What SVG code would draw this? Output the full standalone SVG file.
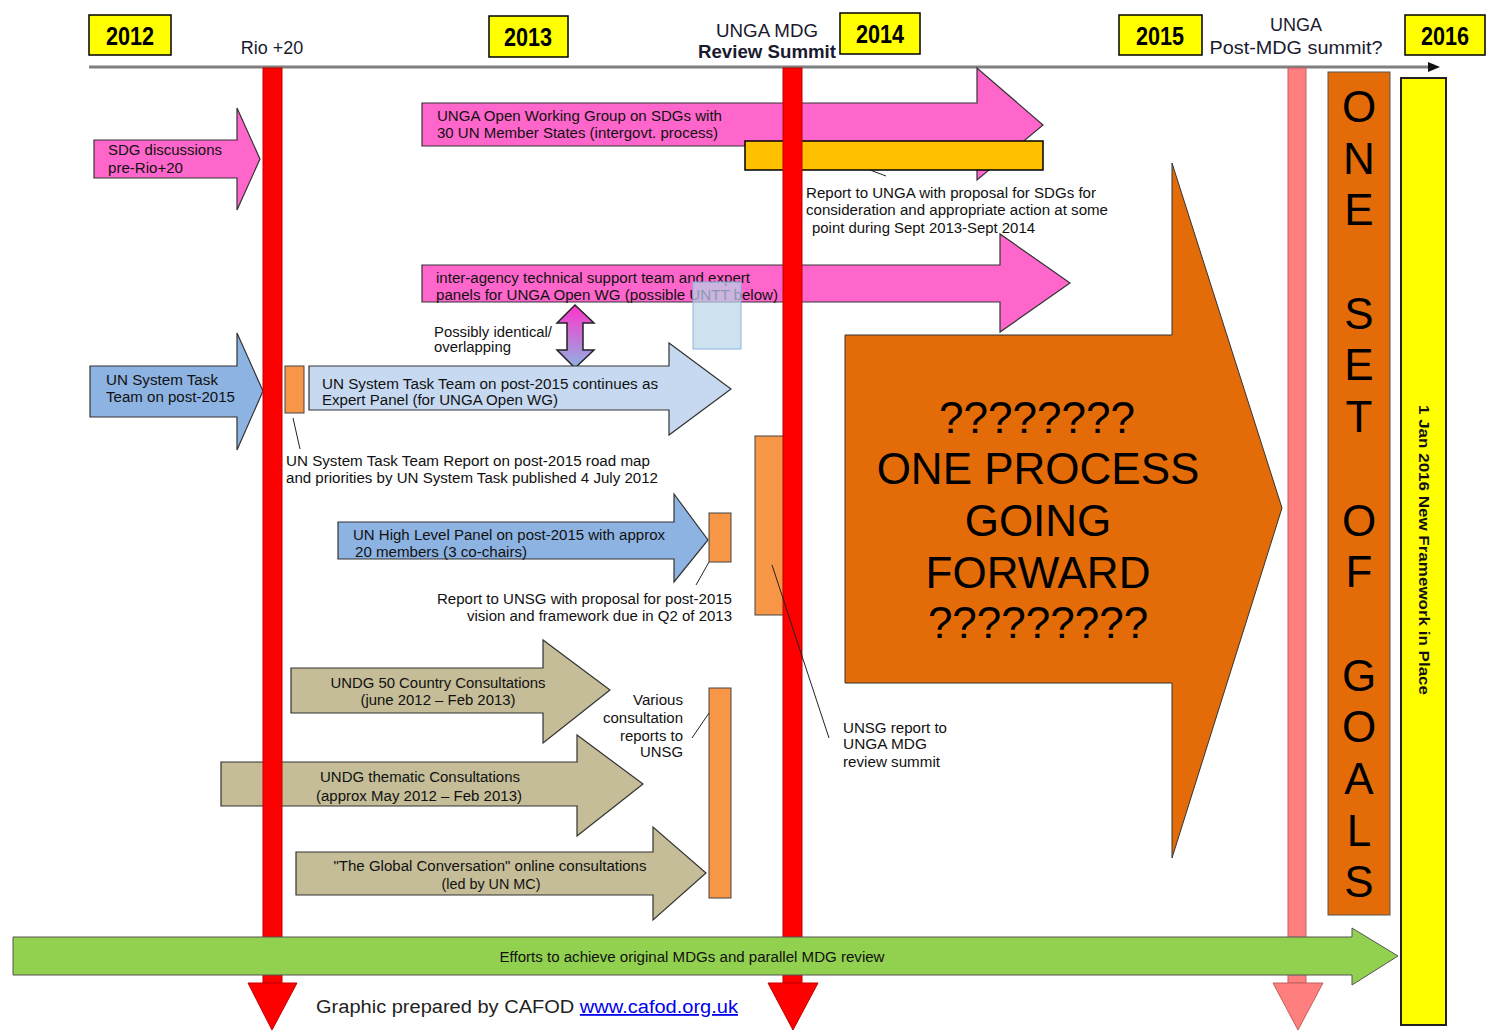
<svg xmlns="http://www.w3.org/2000/svg" width="1494" height="1033" viewBox="0 0 1494 1033">
<defs>
<style>
.t{font-family:"Liberation Sans",Arial,sans-serif;font-size:14px;fill:#111}
.yr{font-family:"Liberation Sans",Arial,sans-serif;font-size:25px;font-weight:bold;fill:#000;text-anchor:middle}
.hd{font-family:"Liberation Sans",Arial,sans-serif;font-size:18px;fill:#1a1a2e;text-anchor:middle}
.big{font-family:"Liberation Sans",Arial,sans-serif;font-size:44px;fill:#000;text-anchor:middle}
.ybox{fill:#FFFF00;stroke:#000;stroke-width:1.5}
.ar{stroke:#333;stroke-width:1.2}
.pink{fill:#FF66CC}
.blue{fill:#8DB3E2}
.lblue{fill:#C6D9F1}
.tan{fill:#C4BD97}
.orsm{fill:#F79646;stroke:#444;stroke-width:1}
.ld{stroke:#222;stroke-width:1;fill:none}
.mid{text-anchor:middle}
.end{text-anchor:end}
</style>
<linearGradient id="dbl" x1="0" y1="0" x2="0" y2="1">
<stop offset="0" stop-color="#FF33CC"/>
<stop offset="1" stop-color="#8DB3E2"/>
</linearGradient>
</defs>
<rect width="1494" height="1033" fill="#fff"/>

<g id="timeline">
<line x1="89" y1="67" x2="1432" y2="67" stroke="#7f7f7f" stroke-width="3"/>
<polygon points="1428,62 1440,67 1428,72" fill="#111"/>
</g>

<g id="years">
<g id="y2012"><rect class="ybox" x="89" y="15" width="82" height="40"/><text class="yr" x="130" y="45" textLength="48" lengthAdjust="spacingAndGlyphs">2012</text></g>
<g id="y2013"><rect class="ybox" x="489" y="16" width="79" height="41"/><text class="yr" x="528" y="46" textLength="48" lengthAdjust="spacingAndGlyphs">2013</text></g>
<g id="y2014"><rect class="ybox" x="840" y="13" width="80" height="41"/><text class="yr" x="880" y="43" textLength="48" lengthAdjust="spacingAndGlyphs">2014</text></g>
<g id="y2015"><rect class="ybox" x="1119" y="15" width="83" height="40"/><text class="yr" x="1160" y="45" textLength="48" lengthAdjust="spacingAndGlyphs">2015</text></g>
<g id="y2016"><rect class="ybox" x="1405" y="15" width="80" height="40"/><text class="yr" x="1445" y="45" textLength="48" lengthAdjust="spacingAndGlyphs">2016</text></g>
</g>

<g id="event-labels">
<text class="hd" x="272" y="54">Rio +20</text>
<text class="hd" x="767" y="37" textLength="102" lengthAdjust="spacingAndGlyphs">UNGA MDG</text>
<text class="hd" x="767" y="58" font-weight="bold" textLength="138" lengthAdjust="spacingAndGlyphs">Review Summit</text>
<text class="hd" x="1296" y="31">UNGA</text>
<text class="hd" x="1296" y="54" textLength="173" lengthAdjust="spacingAndGlyphs">Post-MDG summit?</text>
</g>

<g id="sdg-discussions">
<path class="pink ar" d="M94,140 H237 V108 L260,159 L237,210 V178 H94 Z"/>
<text class="t" x="108" y="155" textLength="114" lengthAdjust="spacingAndGlyphs">SDG discussions</text>
<text class="t" x="108" y="173" textLength="75" lengthAdjust="spacingAndGlyphs">pre-Rio+20</text>
</g>

<g id="unga-owg">
<path class="pink ar" d="M422,103 H977 V68 L1043,125 L977,180 V146 H422 Z"/>
<text class="t" x="437" y="121" textLength="285" lengthAdjust="spacingAndGlyphs">UNGA Open Working Group on SDGs with</text>
<text class="t" x="437" y="138" textLength="281" lengthAdjust="spacingAndGlyphs">30 UN Member States (intergovt. process)</text>
</g>

<g id="unga-report-bar">
<rect x="745" y="141" width="298" height="29" fill="#FFC000" stroke="#000" stroke-width="1.5"/>
</g>

<g id="unga-report-label">
<text class="t" x="806" y="198" textLength="290" lengthAdjust="spacingAndGlyphs">Report to UNGA with proposal for SDGs for</text>
<text class="t" x="806" y="215" textLength="302" lengthAdjust="spacingAndGlyphs">consideration and appropriate action at some</text>
<text class="t" x="812" y="233" textLength="223" lengthAdjust="spacingAndGlyphs">point during Sept 2013-Sept 2014</text>
</g>

<g id="inter-agency">
<path class="pink ar" d="M422,265 H1000 V234 L1070,283 L1000,332 V302 H422 Z"/>
<text class="t" x="436" y="283" textLength="314" lengthAdjust="spacingAndGlyphs">inter-agency technical support team and expert</text>
<text class="t" x="436" y="300" textLength="342" lengthAdjust="spacingAndGlyphs">panels for UNGA Open WG (possible UNTT below)</text>
</g>

<g id="untt-overlay">
<rect x="693" y="282" width="48" height="67" fill="#B8D4E8" fill-opacity="0.7" stroke="#8DB3E2" stroke-width="1"/>
</g>

<g id="possibly-identical">
<path d="M575,305 L594,323 H583 V350 H594 L575,368 L557,350 H567 V323 H557 Z" fill="url(#dbl)" stroke="#222" stroke-width="1.5"/>
<text class="t" x="434" y="337" textLength="118" lengthAdjust="spacingAndGlyphs">Possibly identical/</text>
<text class="t" x="434" y="352" textLength="77" lengthAdjust="spacingAndGlyphs">overlapping</text>
</g>

<g id="untt">
<path class="blue ar" d="M90,366 H237 V333 L263,391 L237,450 V417 H90 Z"/>
<text class="t" x="106" y="385" textLength="112" lengthAdjust="spacingAndGlyphs">UN System Task</text>
<text class="t" x="106" y="402" textLength="129" lengthAdjust="spacingAndGlyphs">Team on post-2015</text>
</g>

<g id="untt-report">
<rect class="orsm" x="285" y="366" width="19" height="47"/>
<text class="t" x="286" y="466" textLength="364" lengthAdjust="spacingAndGlyphs">UN System Task Team Report on post-2015 road map</text>
<text class="t" x="286" y="483" textLength="372" lengthAdjust="spacingAndGlyphs">and priorities by UN System Task published 4 July 2012</text>
</g>

<g id="untt-continues">
<path class="lblue ar" d="M309,366 H669 V343 L731,389 L669,435 V410 H309 Z"/>
<text class="t" x="322" y="389" textLength="336" lengthAdjust="spacingAndGlyphs">UN System Task Team on post-2015 continues as</text>
<text class="t" x="322" y="405" textLength="236" lengthAdjust="spacingAndGlyphs">Expert Panel (for UNGA Open WG)</text>
</g>

<g id="high-level-panel">
<path class="blue ar" d="M338,522 H674 V494 L708,540 L674,582 V559 H338 Z"/>
<text class="t" x="353" y="540" textLength="312" lengthAdjust="spacingAndGlyphs">UN High Level Panel on post-2015 with approx</text>
<text class="t" x="355" y="557" textLength="172" lengthAdjust="spacingAndGlyphs">20 members (3 co-chairs)</text>
</g>

<g id="hlp-report">
<rect class="orsm" x="709" y="513" width="22" height="49"/>
<text class="t end" x="732" y="604" textLength="295" lengthAdjust="spacingAndGlyphs">Report to UNSG with proposal for post-2015</text>
<text class="t end" x="732" y="621" textLength="265" lengthAdjust="spacingAndGlyphs">vision and framework due in Q2 of 2013</text>
</g>

<g id="unsg-report">
<rect class="orsm" x="755" y="436" width="29" height="179"/>
<text class="t" x="843" y="733" textLength="104" lengthAdjust="spacingAndGlyphs">UNSG report to</text>
<text class="t" x="843" y="749" textLength="84" lengthAdjust="spacingAndGlyphs">UNGA MDG</text>
<text class="t" x="843" y="767" textLength="97" lengthAdjust="spacingAndGlyphs">review summit</text>
</g>

<g id="one-process">
<path d="M845,335 H1172 V163 L1282,508 L1172,858 V683 H845 Z" fill="#E36C09" stroke="#333" stroke-width="1"/>
<text class="big" x="1037" y="433">????????</text>
<text class="big" x="1038" y="484">ONE PROCESS</text>
<text class="big" x="1038" y="536">GOING</text>
<text class="big" x="1038" y="588">FORWARD</text>
<text class="big" x="1038" y="638">?????????</text>
</g>

<g id="undg-50">
<path class="tan ar" d="M291,668 H543 V640 L610,690 L543,743 V713 H291 Z"/>
<text class="t mid" x="438" y="688" textLength="215" lengthAdjust="spacingAndGlyphs">UNDG 50 Country Consultations</text>
<text class="t mid" x="438" y="705" textLength="155" lengthAdjust="spacingAndGlyphs">(june 2012 – Feb 2013)</text>
</g>

<g id="undg-thematic">
<path class="tan ar" d="M221,762 H577 V735 L643,784 L577,836 V806 H221 Z"/>
<text class="t mid" x="420" y="782" textLength="200" lengthAdjust="spacingAndGlyphs">UNDG thematic Consultations</text>
<text class="t mid" x="419" y="801" textLength="206" lengthAdjust="spacingAndGlyphs">(approx May 2012 – Feb 2013)</text>
</g>

<g id="global-conversation">
<path class="tan ar" d="M296,852 H653 V827 L706,873 L653,920 V895 H296 Z"/>
<text class="t mid" x="490" y="871" textLength="313" lengthAdjust="spacingAndGlyphs">"The Global Conversation" online consultations</text>
<text class="t mid" x="491" y="889" textLength="99" lengthAdjust="spacingAndGlyphs">(led by UN MC)</text>
</g>

<g id="consultation-reports">
<rect class="orsm" x="709" y="688" width="22" height="210"/>
<text class="t end" x="683" y="705" textLength="50" lengthAdjust="spacingAndGlyphs">Various</text>
<text class="t end" x="683" y="723" textLength="80" lengthAdjust="spacingAndGlyphs">consultation</text>
<text class="t end" x="683" y="741" textLength="63" lengthAdjust="spacingAndGlyphs">reports to</text>
<text class="t end" x="683" y="757" textLength="43" lengthAdjust="spacingAndGlyphs">UNSG</text>
</g>

<g id="rio-bar">
<rect x="263" y="68" width="19" height="915" fill="#FF0000" stroke="#C00000" stroke-width="1"/>
<polygon points="248,983 297,983 272,1030" fill="#FF0000" stroke="#C00000" stroke-width="1"/>
</g>
<g id="mdg-review-bar">
<rect x="783" y="68" width="19" height="915" fill="#FF0000" stroke="#C00000" stroke-width="1"/>
<polygon points="768,983 818,983 793,1030" fill="#FF0000" stroke="#C00000" stroke-width="1"/>
</g>
<g id="post-mdg-bar">
<rect x="1288" y="68" width="18" height="915" fill="#FF7F7F" stroke="#C06060" stroke-width="1"/>
<polygon points="1273,983 1323,983 1298,1030" fill="#FF7F7F" stroke="#C06060" stroke-width="1"/>
</g>

<g id="connectors">
<line class="ld" x1="293" y1="418" x2="300" y2="449"/>
<line class="ld" x1="709" y1="562" x2="696" y2="585"/>
<line class="ld" x1="709" y1="713" x2="692" y2="738"/>
<line class="ld" x1="772" y1="565" x2="829" y2="738"/>
<line class="ld" x1="870" y1="170" x2="886" y2="176"/>
</g>

<g id="one-set-of-goals">
<rect x="1328" y="72" width="62" height="843" fill="#E36C09" stroke="#555" stroke-width="1"/>
<g class="big">
<text x="1359" y="122">O</text>
<text x="1359" y="174">N</text>
<text x="1359" y="225">E</text>
<text x="1359" y="329">S</text>
<text x="1359" y="380">E</text>
<text x="1359" y="432">T</text>
<text x="1359" y="536">O</text>
<text x="1359" y="587">F</text>
<text x="1359" y="691">G</text>
<text x="1359" y="742">O</text>
<text x="1359" y="794">A</text>
<text x="1359" y="846">L</text>
<text x="1359" y="897">S</text>
</g>
</g>

<g id="new-framework">
<rect x="1401" y="78" width="45" height="947" fill="#FFFF00" stroke="#222" stroke-width="2"/>
<text class="t" font-weight="bold" font-size="15" text-anchor="middle" transform="translate(1419,550) rotate(90)" textLength="290" lengthAdjust="spacingAndGlyphs">1 Jan 2016 New Framework in Place</text>
</g>

<g id="mdg-efforts">
<path d="M13,937 H1352 V928 L1398,956 L1352,985 V975 H13 Z" fill="#92D050" stroke="#555" stroke-width="1"/>
<text class="t mid" x="692" y="962" textLength="385" lengthAdjust="spacingAndGlyphs">Efforts to achieve original MDGs and parallel MDG review</text>
</g>

<g id="credit">
<text x="316" y="1013" font-family="Liberation Sans, Arial, sans-serif" font-size="18" fill="#222" textLength="422" lengthAdjust="spacingAndGlyphs">Graphic prepared by CAFOD <tspan fill="#0000EE" text-decoration="underline">www.cafod.org.uk</tspan></text>
</g>
</svg>
